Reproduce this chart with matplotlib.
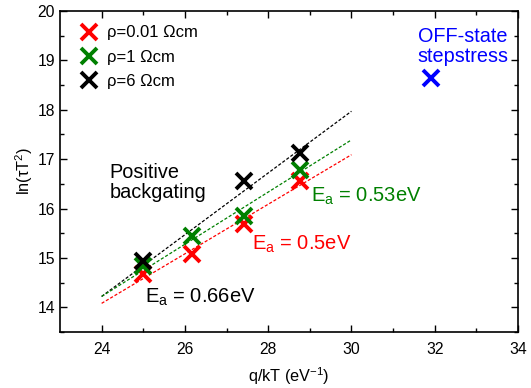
import matplotlib.pyplot as plt

plt.rcParams['font.family'] = ['Liberation Sans', 'DejaVu Sans']
plt.rcParams['mathtext.fontset'] = 'custom'
plt.rcParams['mathtext.rm'] = 'Liberation Sans'
plt.rcParams['mathtext.it'] = 'Liberation Sans'

# measured points, x = q/kT (1/eV), y = ln(tau T^2)
x_red = [25.0, 26.17, 27.42, 28.77]
y_red = [14.67, 15.07, 15.68, 16.55]
x_green = [25.0, 26.17, 27.42, 28.77]
y_green = [14.83, 15.44, 15.84, 16.78]
x_black = [25.0, 27.42, 28.77]
y_black = [14.94, 16.55, 17.12]
x_off = [31.92]
y_off = [18.64]

# fitted lines at x = 24 and x = 30
fit_x = [24, 30]
fit_red = [14.08, 17.09]
fit_green = [14.22, 17.39]
fit_black = [14.22, 17.97]

labels = ["ρ=0.01 Ωcm", "ρ=1 Ωcm", "ρ=6 Ωcm"]

fig = plt.figure(figsize=(5.31, 3.88), dpi=100)
ax = fig.add_axes([60 / 531, 56 / 388, 458 / 531, 321 / 388])

red = '#ff0000'
green = '#008000'
black = '#000000'

ax.plot(fit_x, fit_black, color=black, lw=0.9, dashes=(2.5, 1.5))
ax.plot(fit_x, fit_green, color=green, lw=0.9, dashes=(2.5, 1.5))
ax.plot(fit_x, fit_red, color=red, lw=0.9, dashes=(2.5, 1.5))

ms = 12
mew = 2.8
ax.plot(x_red, y_red, 'x', color=red, ms=ms, mew=mew, label=labels[0])
ax.plot(x_green, y_green, 'x', color=green, ms=ms, mew=mew, label=labels[1])
ax.plot(x_black, y_black, 'x', color=black, ms=ms, mew=mew, label=labels[2])
ax.plot(x_off, y_off, 'x', color='#0000ff', ms=ms, mew=mew)

ax.legend(loc='upper left', bbox_to_anchor=(0.047, 0.955), frameon=False,
          fontsize=12, handlelength=0.9, handletextpad=0.6, labelspacing=0.55,
          borderaxespad=0, borderpad=0)

ax.text(24.19, 16.92, "Positive\nbackgating", fontsize=14.3, va='top', ha='left',
        linespacing=1.05)
ax.text(25.05, 14.2, "E$_{\\mathrm{a}}$ = 0.66eV", fontsize=14.5, va='center',
        color=black)
ax.text(27.62, 15.27, "E$_{\\mathrm{a}}$ = 0.5eV", fontsize=14.5, va='center',
        color=red)
ax.text(29.03, 16.24, "E$_{\\mathrm{a}}$ = 0.53eV", fontsize=14.5, va='center',
        color=green)
ax.text(31.59, 19.68, "OFF-state\nstepstress", fontsize=14.3, va='top',
        ha='left', color='#0000ff', linespacing=1.05)

ax.set_xlim(23, 34)
ax.set_ylim(13.5, 20)
ax.set_xticks([24, 26, 28, 30, 32, 34])
ax.set_xticks([25, 27, 29, 31, 33], minor=True)
ax.set_yticks([14, 15, 16, 17, 18, 19, 20])
ax.set_yticks([13.5, 14.5, 15.5, 16.5, 17.5, 18.5, 19.5], minor=True)
ax.tick_params(which='both', direction='in', top=True, right=True,
               labelsize=11.3, width=1.0)
ax.tick_params(which='major', length=5)
ax.tick_params(which='minor', length=3)
ax.tick_params(axis='x', pad=7)
for s in ax.spines.values():
    s.set_linewidth(1.2)

ax.set_xlabel("q/kT (eV$^{-1}$)", fontsize=11.7, labelpad=6)
ax.set_ylabel("ln(τT$^{2}$)", fontsize=11.7, labelpad=2)

fig.savefig("out.png", dpi=100)
